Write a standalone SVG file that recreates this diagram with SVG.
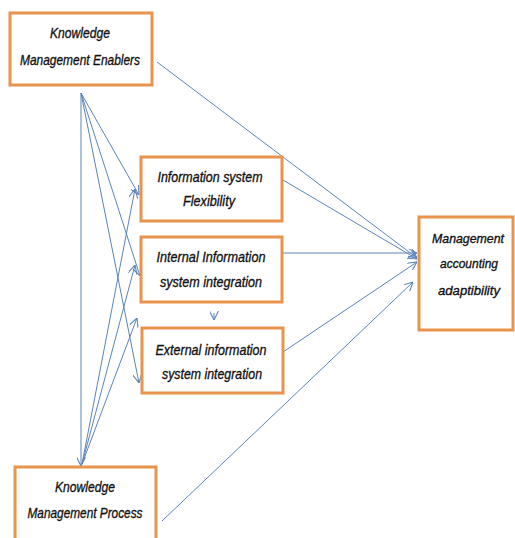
<svg xmlns="http://www.w3.org/2000/svg" width="515" height="538" viewBox="0 0 515 538">
<style>
.box{fill:#fff;stroke:#E8944C;stroke-width:3}
.t{font-family:"Liberation Sans",Arial,sans-serif;font-style:italic;font-size:15.5px;fill:#111;stroke:#111;stroke-width:0.35;text-anchor:middle}
.s{font-size:13.5px}
.c{stroke:#5A84BA;stroke-width:1;fill:none;marker-end:url(#a)}
</style>
<defs>
<marker id="a" viewBox="0 0 10 10" refX="10" refY="5" markerWidth="9" markerHeight="9" markerUnits="userSpaceOnUse" orient="auto">
<path d="M0,0 L10,5 L0,10" fill="none" stroke="#5A84BA" stroke-width="1.2"/>
</marker>
</defs>
<rect width="515" height="538" fill="#fff"/>
<g id="connectors">
<line class="c" x1="81" y1="93" x2="81" y2="466"/>
<line class="c" x1="81" y1="93" x2="139" y2="195"/>
<line class="c" x1="81" y1="93" x2="140" y2="276"/>
<line class="c" x1="81" y1="93" x2="139" y2="383"/>
<line class="c" x1="82" y1="464" x2="135" y2="189"/>
<line class="c" x1="82" y1="464" x2="135" y2="265"/>
<line class="c" x1="82" y1="464" x2="137" y2="318"/>
<line class="c" x1="157" y1="62" x2="417" y2="258"/>
<line class="c" x1="283" y1="180" x2="417" y2="259"/>
<line class="c" x1="283" y1="253" x2="417" y2="253"/>
<line class="c" x1="283" y1="352" x2="417" y2="262"/>
<line class="c" x1="162" y1="521" x2="413" y2="282"/>
<line class="c" x1="214" y1="313" x2="214" y2="320"/>
</g>
<g id="kme">
<rect class="box" x="10" y="13" width="142" height="72"/>
<text class="t" x="80" y="38" textLength="60" lengthAdjust="spacingAndGlyphs">Knowledge</text>
<text class="t" x="80" y="65" textLength="120" lengthAdjust="spacingAndGlyphs">Management Enablers</text>
</g>
<g id="isf">
<rect class="box" x="141" y="157" width="141" height="64"/>
<text class="t" x="210" y="182" textLength="105" lengthAdjust="spacingAndGlyphs">Information system</text>
<text class="t" x="209" y="206" textLength="52" lengthAdjust="spacingAndGlyphs">Flexibility</text>
</g>
<g id="iisi">
<rect class="box" x="141" y="237" width="141" height="65"/>
<text class="t" x="211" y="262" textLength="109" lengthAdjust="spacingAndGlyphs">Internal Information</text>
<text class="t" x="211" y="287" textLength="102" lengthAdjust="spacingAndGlyphs">system integration</text>
</g>
<g id="eisi">
<rect class="box" x="142" y="328" width="141" height="65"/>
<text class="t" x="211" y="355" textLength="111" lengthAdjust="spacingAndGlyphs">External information</text>
<text class="t" x="212" y="379" textLength="100" lengthAdjust="spacingAndGlyphs">system integration</text>
</g>
<g id="kmp">
<rect class="box" x="15" y="467" width="141" height="80"/>
<text class="t" x="85" y="492" textLength="60" lengthAdjust="spacingAndGlyphs">Knowledge</text>
<text class="t" x="85" y="518" textLength="115" lengthAdjust="spacingAndGlyphs">Management Process</text>
</g>
<g id="maa">
<rect class="box" x="419" y="217" width="94" height="113"/>
<text class="t s" x="468" y="243" textLength="72" lengthAdjust="spacingAndGlyphs">Management</text>
<text class="t s" x="469" y="268" textLength="58" lengthAdjust="spacingAndGlyphs">accounting</text>
<text class="t s" x="469" y="295" textLength="62" lengthAdjust="spacingAndGlyphs">adaptibility</text>
</g>
</svg>
